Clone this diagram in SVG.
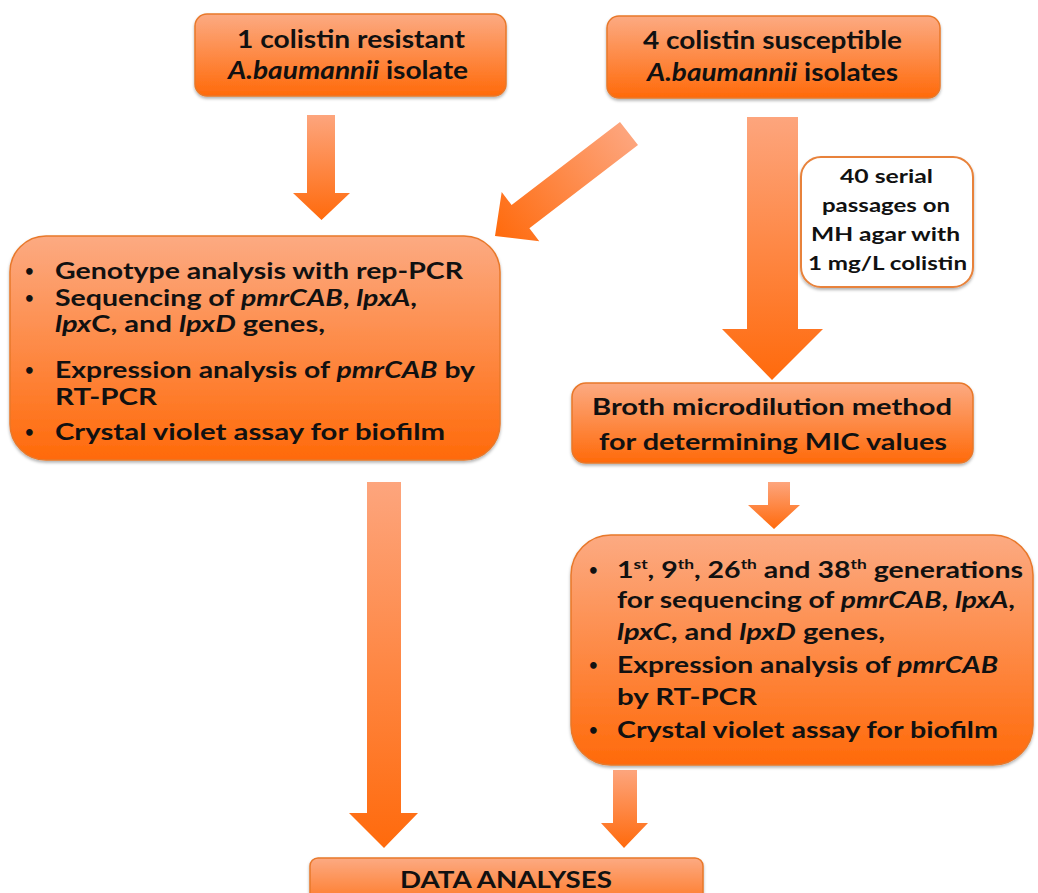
<svg xmlns="http://www.w3.org/2000/svg" width="1038" height="893" viewBox="0 0 1038 893">
<style>
.t{font-family:Lato,"Liberation Sans",sans-serif;font-weight:700;fill:#111;}
.i{font-style:italic;}
.b{font-size:15px;}
.box{fill:url(#bg);stroke:#E8782A;stroke-width:1.5;filter:url(#sh);}
.arr{stroke:none;}
</style>
<defs>
<linearGradient id="bg" x1="0" y1="0" x2="0" y2="1">
<stop offset="0" stop-color="#FCAA82"/>
<stop offset="1" stop-color="#FF6A0A"/>
</linearGradient>
<linearGradient id="ag" x1="0" y1="0" x2="0" y2="1">
<stop offset="0" stop-color="#FDA57D"/>
<stop offset="1" stop-color="#FF6A0C"/>
</linearGradient>
<linearGradient id="dg" gradientUnits="userSpaceOnUse" x1="629" y1="133" x2="495" y2="236">
<stop offset="0" stop-color="#FDA57D"/>
<stop offset="1" stop-color="#FF6A0C"/>
</linearGradient>
<filter id="sh" x="-5%" y="-5%" width="110%" height="120%">
<feDropShadow dx="0" dy="2" stdDeviation="1.5" flood-color="#000" flood-opacity="0.3"/>
</filter>
</defs>

<g id="connectors">
<polygon class="arr" fill="url(#ag)" points="307,115 335,115 335,193 350,193 321.5,220 293,193 307,193"/>
<polygon class="arr" fill="url(#dg)" points="620,122 638,145 529.4,228.2 539.3,241.3 495,236 501.7,191.9 511.6,205"/>
<polygon class="arr" fill="url(#ag)" points="747,117 798,117 798,329 823,329 772,380 722,329 747,329"/>
<polygon class="arr" fill="url(#ag)" points="768,482 790,482 790,505 800,505 774,529 748,505 768,505"/>
<polygon class="arr" fill="url(#ag)" points="367,482 401,482 401,813 418,813 384,848 349,813 367,813"/>
<polygon class="arr" fill="url(#ag)" points="613,770 637,770 637,823 648,823 624,848 601,823 613,823"/>
</g>

<g id="resistant">
<rect class="box" x="195" y="14" width="311" height="82" rx="12"/>
<text class="t" font-size="24" x="237" y="48" textLength="228" lengthAdjust="spacingAndGlyphs">1 colistin resistant</text>
<text class="t" font-size="24" x="228" y="79" textLength="240" lengthAdjust="spacingAndGlyphs"><tspan class="i">A.baumannii</tspan> isolate</text>
</g>

<g id="susceptible">
<rect class="box" x="607" y="16" width="333" height="82" rx="12"/>
<text class="t" font-size="24" x="643" y="49" textLength="259" lengthAdjust="spacingAndGlyphs">4 colistin susceptible</text>
<text class="t" font-size="24" x="647" y="81" textLength="251" lengthAdjust="spacingAndGlyphs"><tspan class="i">A.baumannii</tspan> isolates</text>
</g>

<g id="analysis-left">
<rect class="box" x="10" y="236" width="490" height="224" rx="36"/>
<g class="t" font-size="23">
<text class="b" x="25" y="276">•</text>
<text x="55" y="279" textLength="408" lengthAdjust="spacingAndGlyphs">Genotype analysis with rep-PCR</text>
<text class="b" x="25" y="303">•</text>
<text x="55" y="306" textLength="362" lengthAdjust="spacingAndGlyphs">Sequencing of <tspan class="i">pmrCAB</tspan>, <tspan class="i">lpxA</tspan>,</text>
<text x="55" y="332" textLength="270" lengthAdjust="spacingAndGlyphs"><tspan class="i">lpx</tspan>C, and <tspan class="i">lpxD</tspan> genes,</text>
<text class="b" x="25" y="375">•</text>
<text x="55" y="378" textLength="420" lengthAdjust="spacingAndGlyphs">Expression analysis of <tspan class="i">pmrCAB</tspan> by</text>
<text x="55" y="405" textLength="102" lengthAdjust="spacingAndGlyphs">RT-PCR</text>
<text class="b" x="25" y="437">•</text>
<text x="55" y="440" textLength="390" lengthAdjust="spacingAndGlyphs">Crystal violet assay for biofilm</text>
</g>
</g>

<g id="passages">
<rect x="801" y="157" width="172" height="130" rx="20" fill="#fff" stroke="#E8823A" stroke-width="2" filter="url(#sh)"/>
<g class="t" font-size="18">
<text x="840" y="183" textLength="93" lengthAdjust="spacingAndGlyphs">40 serial</text>
<text x="822" y="212" textLength="128" lengthAdjust="spacingAndGlyphs">passages on</text>
<text x="811" y="241" textLength="149" lengthAdjust="spacingAndGlyphs">MH agar with</text>
<text x="808" y="270" textLength="159" lengthAdjust="spacingAndGlyphs">1 mg/L colistin</text>
</g>
</g>

<g id="broth">
<rect class="box" x="572" y="383" width="401" height="80" rx="14"/>
<text class="t" font-size="23" x="592" y="415" textLength="360" lengthAdjust="spacingAndGlyphs">Broth microdilution method</text>
<text class="t" font-size="23" x="599" y="450" textLength="348" lengthAdjust="spacingAndGlyphs">for determining MIC values</text>
</g>

<g id="generations">
<rect class="box" x="571" y="535" width="462" height="230" rx="40"/>
<g class="t" font-size="23">
<text class="b" x="589" y="575">•</text>
<text x="617" y="578" textLength="406" lengthAdjust="spacingAndGlyphs">1<tspan font-size="14" dy="-9">st</tspan><tspan dy="9">, 9</tspan><tspan font-size="14" dy="-9">th</tspan><tspan dy="9">, 26</tspan><tspan font-size="14" dy="-9">th</tspan><tspan dy="9"> and 38</tspan><tspan font-size="14" dy="-9">th</tspan><tspan dy="9"> generations</tspan></text>
<text x="617" y="608" textLength="398" lengthAdjust="spacingAndGlyphs">for sequencing of <tspan class="i">pmrCAB</tspan>, <tspan class="i">lpxA</tspan>,</text>
<text x="617" y="640" textLength="268" lengthAdjust="spacingAndGlyphs"><tspan class="i">lpxC</tspan>, and <tspan class="i">lpxD</tspan> genes,</text>
<text class="b" x="589" y="670">•</text>
<text x="617" y="673" textLength="381" lengthAdjust="spacingAndGlyphs">Expression analysis of <tspan class="i">pmrCAB</tspan></text>
<text x="617" y="705" textLength="140" lengthAdjust="spacingAndGlyphs">by RT-PCR</text>
<text class="b" x="589" y="735">•</text>
<text x="617" y="738" textLength="381" lengthAdjust="spacingAndGlyphs">Crystal violet assay for biofilm</text>
</g>
</g>

<g id="data-analyses">
<rect class="box" x="310" y="858" width="393" height="60" rx="8"/>
<text class="t" font-size="22" x="400" y="888" textLength="212" lengthAdjust="spacingAndGlyphs">DATA ANALYSES</text>
</g>
</svg>
